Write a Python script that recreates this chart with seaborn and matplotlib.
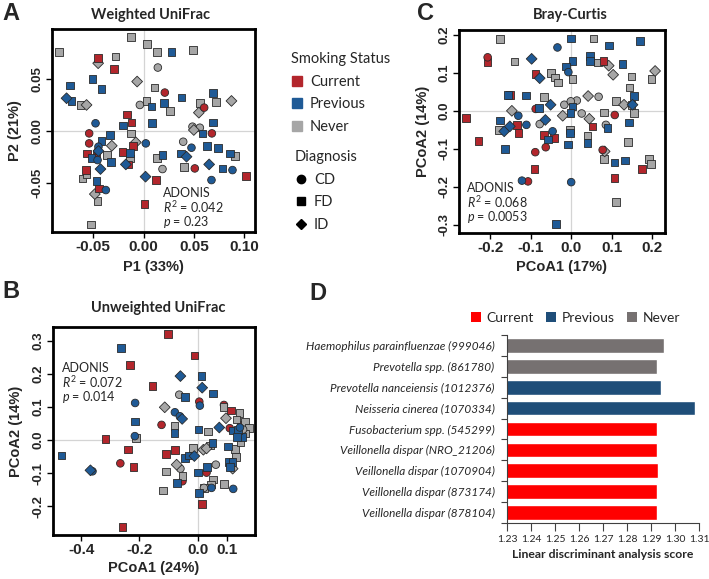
import numpy as np
import pandas as pd
import matplotlib
matplotlib.use("Agg")
import matplotlib.pyplot as plt
import seaborn as sns
from matplotlib.lines import Line2D
from matplotlib.patches import Patch

# ---------------- data ----------------
SMOKE = {"C": "Current", "P": "Previous", "N": "Never"}
DIAG = {"C": "CD", "S": "FD", "D": "ID"}
smoke_levels = ["Current", "Previous", "Never"]
diag_levels = ["CD", "FD", "ID"]

# Panel A: Weighted UniFrac  (x, y, smoking+diagnosis code)
a_points = [
    (-0.0835, 0.0765, "NS"), (-0.0125, 0.0910, "NS"), (0.0036, 0.0846, "NS"), (0.0135, 0.0765, "NS"),
    (0.0492, 0.0787, "NS"), (-0.0277, 0.0723, "NS"), (0.0109, 0.0424, "NS"), (0.0030, 0.0292, "NS"),
    (0.0261, 0.0194, "NS"), (0.0558, 0.0269, "NS"), (0.0716, 0.0279, "NS"), (-0.0624, 0.0253, "NS"),
    (-0.0125, -0.0023, "NS"), (-0.0360, -0.0233, "NS"), (-0.0135, -0.0266, "NS"), (0.0135, -0.0259, "NS"),
    (0.0403, -0.0347, "NS"), (0.0904, -0.0240, "NS"), (-0.0604, -0.0460, "NS"), (-0.0564, -0.0418, "NS"),
    (-0.0455, -0.0680, "NS"), (-0.0518, -0.0907, "NS"),
    (0.0142, 0.0616, "NC"), (-0.0036, 0.0253, "NC"), (0.0485, 0.0042, "NC"), (0.0558, 0.0032, "NC"),
    (0.0393, -0.0104, "NC"), (0.0188, -0.0369, "NC"),
    (-0.0449, 0.0658, "ND"), (-0.0063, 0.0480, "ND"), (-0.0564, 0.0253, "ND"), (0.0871, 0.0292, "ND"),
    (0.0548, 0.0178, "ND"), (0.0498, 0.0010, "ND"), (-0.0314, -0.0143, "ND"), (-0.0076, -0.0110, "ND"),
    (-0.0482, -0.0612, "ND"),
    (-0.0449, 0.0706, "CS"), (-0.0290, 0.0603, "CS"), (-0.0162, 0.0162, "CS"), (-0.0119, 0.0084, "CS"),
    (-0.0208, -0.0201, "CS"), (-0.0102, -0.0143, "CS"), (-0.0149, -0.0324, "CS"), (-0.0558, -0.0217, "CS"),
    (-0.0571, -0.0379, "CS"), (-0.0439, -0.0557, "CS"), (0.0122, -0.0476, "CS"), (0.0010, -0.0710, "CS"),
    (0.1013, -0.0437, "CS"), (-0.0465, -0.0217, "CS"),
    (0.0211, 0.0373, "CC"), (0.0601, 0.0227, "CC"), (0.0677, -0.0023, "CC"), (0.0508, -0.0363, "CC"),
    (-0.0538, -0.0023, "CC"), (-0.0538, -0.0120, "CC"), (-0.0452, -0.0194, "CC"),
    (0.0277, 0.0765, "PS"), (-0.0505, 0.0505, "PS"), (-0.0729, 0.0441, "PS"), (-0.0416, 0.0405, "PS"),
    (-0.0713, 0.0292, "PS"), (0.0376, 0.0324, "PS"), (0.0205, 0.0269, "PS"), (0.0079, 0.0237, "PS"),
    (0.0083, 0.0075, "PS"), (-0.0201, 0.0052, "PS"), (0.0690, 0.0366, "PS"), (0.0690, 0.0084, "PS"),
    (0.0584, -0.0023, "PS"), (0.0630, -0.0143, "PS"), (0.0739, -0.0162, "PS"), (-0.0333, -0.0039, "PS"),
    (-0.0416, -0.0097, "PS"), (-0.0323, -0.0298, "PS"), (-0.0135, -0.0211, "PS"), (0.0188, -0.0233, "PS"),
    (0.0370, -0.0217, "PS"), (0.0782, -0.0363, "PS"), (0.0855, -0.0217, "PS"), (-0.0465, -0.0483, "PS"),
    (-0.0515, -0.0259, "PS"),
    (-0.0475, 0.0075, "PC"), (0.0023, -0.0120, "PC"), (-0.0446, -0.0152, "PC"), (-0.0455, -0.0282, "PC"),
    (-0.0373, -0.0573, "PC"), (0.0475, -0.0162, "PC"), (0.0881, -0.0379, "PC"), (0.0673, -0.0476, "PC"),
    (-0.0762, 0.0318, "PD"), (-0.0446, -0.0194, "PD"), (-0.0426, -0.0369, "PD"), (-0.0175, -0.0324, "PD"),
    (0.0020, -0.0443, "PD"), (0.0426, -0.0249, "PD"), (0.0650, -0.0324, "PD"),
]
a_xticks = [-0.05, 0.0, 0.05, 0.10]
a_xticklabels = ["-0.05", "0.00", "0.05", "0.10"]
a_yticks = [-0.05, 0.0, 0.05]
a_yticklabels = ["-0.05", "0.00", "0.05"]

# Panel B: Unweighted UniFrac
b_points = [
    (-0.101, 0.320, "CS"), (-0.011, 0.255, "CS"), (-0.233, 0.227, "CS"), (-0.155, 0.163, "CS"),
    (-0.317, 0.004, "CS"), (-0.239, -0.028, "CS"), (-0.220, -0.081, "CS"), (-0.109, -0.041, "CS"),
    (-0.077, -0.029, "CS"), (-0.259, -0.261, "CS"), (0.016, -0.192, "CS"), (0.115, 0.089, "CS"),
    (0.148, 0.045, "CS"),
    (0.006, 0.116, "CC"), (0.091, 0.106, "CC"), (-0.124, 0.046, "CC"), (-0.266, -0.070, "CC"),
    (-0.052, -0.124, "CC"), (0.031, -0.098, "CC"), (0.111, 0.036, "CC"),
    (0.089, 0.099, "NS"), (0.144, 0.082, "NS"), (0.134, 0.062, "NS"), (0.163, 0.054, "NS"),
    (0.178, 0.036, "NS"), (0.152, 0.025, "NS"), (-0.213, 0.006, "NS"), (-0.080, 0.042, "NS"),
    (0.037, 0.026, "NS"), (-0.015, -0.023, "NS"), (0.043, -0.016, "NS"), (0.129, -0.026, "NS"),
    (0.148, -0.006, "NS"), (0.132, -0.051, "NS"), (-0.109, -0.094, "NS"), (-0.052, -0.108, "NS"),
    (-0.118, -0.152, "NS"), (0.054, -0.119, "NS"), (0.046, -0.134, "NS"), (0.023, -0.145, "NS"),
    (0.091, -0.132, "NS"), (0.163, 0.020, "NS"),
    (-0.063, 0.137, "NC"), (-0.059, -0.086, "NC"), (0.063, -0.074, "NC"), (0.022, -0.144, "NC"),
    (0.157, 0.032, "NC"),
    (-0.113, 0.099, "ND"), (0.098, 0.066, "ND"), (0.020, -0.029, "ND"), (-0.072, -0.074, "ND"),
    (0.121, -0.086, "ND"), (0.031, -0.025, "ND"),
    (-0.264, 0.277, "PS"), (0.014, 0.193, "PS"), (0.054, 0.140, "PS"), (-0.044, 0.130, "PS"),
    (-0.216, 0.056, "PS"), (-0.080, 0.021, "PS"), (0.003, 0.032, "PS"), (0.121, 0.029, "PS"),
    (0.155, 0.009, "PS"), (-0.469, -0.046, "PS"), (0.052, -0.008, "PS"), (0.106, -0.019, "PS"),
    (-0.044, -0.054, "PS"), (-0.029, -0.046, "PS"), (-0.070, -0.129, "PS"), (0.002, -0.098, "PS"),
    (0.033, -0.081, "PS"), (0.006, -0.159, "PS"), (0.109, -0.066, "PS"), (0.121, -0.066, "PS"),
    (0.111, -0.081, "PS"), (0.140, 0.030, "PS"), (0.137, 0.010, "PS"),
    (-0.215, 0.112, "PC"), (0.008, 0.104, "PC"), (-0.078, 0.084, "PC"), (-0.061, 0.072, "PC"),
    (-0.216, 0.012, "PC"), (-0.362, -0.094, "PC"), (0.048, -0.144, "PC"), (0.123, -0.147, "PC"),
    (0.146, 0.038, "PC"),
    (-0.059, 0.193, "PD"), (0.016, 0.158, "PD"), (-0.053, 0.064, "PD"), (0.075, 0.038, "PD"),
    (-0.011, -0.048, "PD"), (-0.369, -0.091, "PD"),
]
b_xticks = [-0.4, -0.2, 0.0, 0.1]
b_xticklabels = ["-0.4", "-0.2", "0.0", "0.1"]
b_yticks = [-0.2, -0.1, 0.0, 0.1, 0.2, 0.3]
b_yticklabels = ["-0.2", "-0.1", "0.0", "0.1", "0.2", "0.3"]

# Panel C: Bray-Curtis
c_points = [
    (-0.176, 0.189, "NS"), (-0.140, 0.130, "NS"), (-0.050, 0.099, "NS"), (-0.040, 0.088, "NS"),
    (-0.032, 0.075, "NS"), (-0.067, 0.036, "NS"), (-0.179, -0.050, "NS"), (0.055, 0.191, "NS"),
    (0.066, 0.127, "NS"), (0.003, 0.084, "NS"), (0.149, 0.090, "NS"), (0.199, 0.084, "NS"),
    (0.145, 0.061, "NS"), (0.111, 0.026, "NS"), (0.149, 0.016, "NS"), (0.155, -0.006, "NS"),
    (0.082, -0.004, "NS"), (-0.003, -0.050, "NS"), (0.040, -0.065, "NS"), (0.141, -0.082, "NS"),
    (0.082, -0.127, "NS"), (0.193, -0.127, "NS"), (0.198, -0.140, "NS"), (0.111, -0.241, "NS"),
    (-0.017, 0.016, "NC"), (0.014, 0.027, "NC"), (-0.001, 0.025, "NC"), (0.068, 0.037, "NC"),
    (0.026, -0.007, "NC"), (0.086, -0.037, "NC"), (-0.078, -0.035, "NC"),
    (-0.147, 0.000, "ND"), (0.093, 0.119, "ND"), (0.104, 0.095, "ND"), (0.208, 0.105, "ND"),
    (0.042, 0.039, "ND"), (-0.021, -0.013, "ND"), (0.045, -0.021, "ND"), (0.131, 0.016, "ND"),
    (0.083, -0.107, "ND"),
    (-0.207, 0.128, "CS"), (-0.088, 0.097, "CS"), (-0.260, -0.019, "CS"), (-0.135, -0.037, "CS"),
    (-0.131, -0.059, "CS"), (-0.067, -0.063, "CS"), (-0.042, -0.072, "CS"), (-0.230, -0.079, "CS"),
    (-0.091, -0.153, "CS"), (0.080, 0.132, "CS"), (0.053, -0.041, "CS"), (0.175, -0.153, "CS"),
    (0.107, -0.177, "CS"), (-0.152, 0.042, "CS"),
    (-0.207, 0.141, "CC"), (-0.088, 0.005, "CC"), (-0.089, -0.109, "CC"), (-0.063, -0.096, "CC"),
    (-0.107, -0.186, "CC"), (0.108, -0.011, "CC"), (0.078, -0.103, "CC"),
    (-0.156, 0.042, "PS"), (-0.112, 0.040, "PS"), (-0.079, 0.007, "PS"), (-0.176, -0.026, "PS"),
    (-0.058, -0.076, "PS"), (-0.164, -0.100, "PS"), (-0.038, -0.298, "PS"), (-0.001, 0.191, "PS"),
    (0.094, 0.172, "PS"), (0.171, 0.184, "PS"), (0.003, 0.132, "PS"), (0.046, 0.145, "PS"),
    (0.046, 0.132, "PS"), (0.127, 0.123, "PS"), (-0.013, 0.117, "PS"), (0.155, 0.039, "PS"),
    (0.003, 0.011, "PS"), (-0.002, -0.006, "PS"), (0.090, -0.046, "PS"), (0.144, -0.031, "PS"),
    (-0.003, -0.059, "PS"), (0.040, -0.085, "PS"), (-0.008, -0.089, "PS"), (0.107, -0.136, "PS"),
    (0.134, -0.131, "PS"),
    (-0.034, 0.167, "PC"), (-0.131, -0.013, "PC"), (-0.111, -0.037, "PC"), (-0.046, -0.054, "PC"),
    (-0.122, -0.184, "PC"), (-0.007, 0.102, "PC"), (0.000, -0.188, "PC"),
    (-0.098, 0.137, "PD"), (-0.078, 0.086, "PD"), (-0.051, 0.016, "PD"), (-0.166, -0.054, "PD"),
    (-0.152, -0.041, "PD"), (-0.064, -0.024, "PD"), (0.152, 0.016, "PD"),
]
c_xticks = [-0.2, -0.1, 0.0, 0.1, 0.2]
c_xticklabels = ["-0.2", "-0.1", "0.0", "0.1", "0.2"]
c_yticks = [-0.3, -0.2, -0.1, 0.0, 0.1, 0.2]
c_yticklabels = ["-0.3", "-0.2", "-0.1", "0.0", "0.1", "0.2"]

# Panel D: LDA scores
d_taxa = [
    "Haemophilus parainfluenzae (999046)",
    "Prevotella spp. (861780)",
    "Prevotella nanceiensis (1012376)",
    "Neisseria cinerea (1070334)",
    "Fusobacterium spp. (545299)",
    "Veillonella dispar (NRO_21206)",
    "Veillonella dispar (1070904)",
    "Veillonella dispar (873174)",
    "Veillonella dispar (878104)",
]
d_score = [1.2955, 1.2927, 1.2941, 1.3082, 1.2927, 1.2927, 1.2929, 1.2927, 1.2927]
d_group = ["Never", "Never", "Previous", "Previous", "Current", "Current", "Current", "Current", "Current"]
d_xticks = [1.23, 1.24, 1.25, 1.26, 1.27, 1.28, 1.29, 1.30, 1.31]
d_xticklabels = ["1.23", "1.24", "1.25", "1.26", "1.27", "1.28", "1.29", "1.30", "1.31"]

# ---------------- style ----------------
sns.set_theme(style="white")
plt.rcParams["font.family"] = ["Liberation Sans", "DejaVu Sans"]
plt.rcParams["mathtext.fontset"] = "custom"
plt.rcParams["mathtext.it"] = "Lato:italic"
plt.rcParams["mathtext.rm"] = "Lato"
CAL = ["Lato", "DejaVu Sans"]

PAL = {"Current": "#B3262C", "Previous": "#1F5A96", "Never": "#A6A6A6"}
MARK = {"CD": "o", "FD": "s", "ID": "D"}
BARPAL = {"Current": "#FF0000", "Previous": "#1F4E79", "Never": "#767171"}

W, H = 709, 579
fig = plt.figure(figsize=(W / 100, H / 100), dpi=100)


def box(l, t, r, b):
    return [l / W, 1 - b / H, (r - l) / W, (b - t) / H]


def fx(x):
    return x / W


def fy(y):
    return 1 - y / H


def scatter_panel(ax, pts, xlim, ylim, xt, xtl, yt, ytl, xlab, ylab, xl_y, yl_x):
    df = pd.DataFrame(pts, columns=["x", "y", "code"])
    df["Smoking"] = df["code"].str[0].map(SMOKE)
    df["Diagnosis"] = df["code"].str[1].map(DIAG)
    ax.axhline(0, color="#d4d4d4", lw=0.9, zorder=1)
    ax.axvline(0, color="#d4d4d4", lw=0.9, zorder=1)
    sns.scatterplot(data=df, x="x", y="y", hue="Smoking", style="Diagnosis",
                    hue_order=smoke_levels, style_order=diag_levels,
                    palette=PAL, markers=MARK, s=30, edgecolor="#2a2a2a",
                    linewidth=0.6, legend=False, ax=ax, zorder=3)
    ax.set_xlim(*xlim)
    ax.set_ylim(*ylim)
    ax.set_xticks(xt)
    ax.set_xticklabels(xtl, fontsize=11, fontweight="bold")
    ax.set_yticks(yt)
    ax.set_yticklabels(ytl, fontsize=9.5, fontweight="bold", rotation=90, va="center")
    ax.tick_params(axis="both", direction="out", length=4, width=1, color="black",
                   bottom=True, left=True, pad=2)
    for s in ax.spines.values():
        s.set_linewidth(2)
        s.set_color("black")
    ax.grid(False)
    ax.set_xlabel(xlab, fontsize=10.5, fontweight="bold")
    ax.set_ylabel(ylab, fontsize=10.5, fontweight="bold")
    ax.xaxis.label.set_va("center")
    ax.yaxis.label.set_va("center")
    ax.xaxis.set_label_coords(0.5, xl_y)
    ax.yaxis.set_label_coords(yl_x, 0.5)


# Panel A
axA = fig.add_axes(box(52, 29, 255, 232))
scatter_panel(axA, a_points, (-0.0906, 0.1104), (-0.098, 0.099),
              a_xticks, a_xticklabels, a_yticks, a_yticklabels,
              "P1 (33%)", "P2 (21%)", -0.172, -0.182)
# Panel B
axB = fig.add_axes(box(53, 327, 255, 535))
scatter_panel(axB, b_points, (-0.498, 0.198), (-0.286, 0.341),
              b_xticks, b_xticklabels, b_yticks, b_yticklabels,
              "PCoA1 (24%)", "PCoA2 (14%)", -0.159, -0.183)
# Panel C
axC = fig.add_axes(box(459, 30, 665, 233))
scatter_panel(axC, c_points, (-0.278, 0.2325), (-0.322, 0.213),
              c_xticks, c_xticklabels, c_yticks, c_yticklabels,
              "PCoA1 (17%)", "PCoA2 (14%)", -0.167, -0.175)

# Titles and panel letters
fig.text(fx(151), fy(15), "Weighted UniFrac", family=CAL, fontweight="bold", fontsize=10.5, ha="center", va="center")
fig.text(fx(158), fy(308), "Unweighted UniFrac", family=CAL, fontweight="bold", fontsize=10.5, ha="center", va="center")
fig.text(fx(570), fy(15), "Bray-Curtis", family=CAL, fontweight="bold", fontsize=10.5, ha="center", va="center")
for lab, x, y in [("A", 11, 14), ("B", 11, 291), ("C", 426, 14), ("D", 318, 294)]:
    fig.text(fx(x), fy(y), lab, fontsize=17, fontweight="bold", ha="center", va="center")

# ADONIS annotations
for (x, y0, r2, p) in [(163, 193, "0.042", "0.23"), (62, 368, "0.072", "0.014"), (467, 188, "0.068", "0.0053")]:
    fig.text(fx(x), fy(y0), "ADONIS", family=CAL, fontsize=9, va="center")
    fig.text(fx(x), fy(y0 + 14.5), "$R^2$ = " + r2, family=CAL, fontsize=9, va="center")
    fig.text(fx(x), fy(y0 + 29), "$p$ = " + p, family=CAL, fontsize=9, va="center")

# Middle legends
h1 = [Line2D([], [], marker="s", linestyle="", color=PAL[k], markersize=7) for k in smoke_levels]
leg1 = fig.legend(h1, smoke_levels, title="Smoking Status", loc="upper left",
                  bbox_to_anchor=(fx(291), fy(52)), frameon=False, alignment="left",
                  prop={"family": CAL, "size": 10.5}, title_fontproperties={"family": CAL, "size": 10.5},
                  handlelength=0.8, handletextpad=0.5, labelspacing=0.6, borderpad=0, borderaxespad=0)
h2 = [Line2D([], [], marker=MARK[k], linestyle="", color="black", markersize=6 if k != "ID" else 5.5) for k in diag_levels]
leg2 = fig.legend(h2, diag_levels, title="Diagnosis", loc="upper left",
                  bbox_to_anchor=(fx(295), fy(150)), frameon=False, alignment="left",
                  prop={"family": CAL, "size": 10.5}, title_fontproperties={"family": CAL, "size": 10.5},
                  handlelength=0.8, handletextpad=0.5, labelspacing=0.6, borderpad=0, borderaxespad=0)

# Panel D
axD = fig.add_axes(box(507, 335, 699, 523))
dfD = pd.DataFrame({"taxon": d_taxa, "score": d_score, "group": d_group})
sns.barplot(data=dfD, y="taxon", x="score", hue="group", palette=BARPAL, order=d_taxa,
            hue_order=smoke_levels, dodge=False, orient="h", width=0.7, saturation=1,
            legend=False, ax=axD)
axD.set_xlim(1.23, 1.31)
axD.set_ylim(len(d_taxa) - 0.5, -0.5)
axD.set_xticks(d_xticks)
axD.set_xticklabels(d_xticklabels, family=CAL, fontsize=7.5)
axD.set_yticks(range(len(d_taxa)))
axD.set_yticklabels(d_taxa, family=CAL, fontsize=8.5, style="italic")
axD.set_yticks([i - 0.5 for i in range(len(d_taxa) + 1)], minor=True)
axD.tick_params(axis="y", which="major", length=0, pad=9)
axD.tick_params(axis="y", which="minor", length=4, width=0.8, color="#404040", left=True)
axD.tick_params(axis="x", which="major", length=5.5, width=0.8, color="#404040", bottom=True, pad=3)
for side in ["top", "right"]:
    axD.spines[side].set_visible(False)
for side in ["left", "bottom"]:
    axD.spines[side].set_color("#404040")
    axD.spines[side].set_linewidth(0.8)
axD.grid(False)
axD.set_ylabel("")
axD.set_xlabel("Linear discriminant analysis score", family=CAL, fontweight="bold", fontsize=8.8)
axD.xaxis.label.set_va("center")
axD.xaxis.set_label_coords(0.5, -0.168)
hD = [Patch(facecolor=BARPAL[k], edgecolor="none") for k in smoke_levels]
axD.legend(hD, smoke_levels, ncol=3, loc="center right", bbox_to_anchor=(0.9, 1.09),
           frameon=False, prop={"family": CAL, "size": 10}, handlelength=0.7, handleheight=0.7,
           handletextpad=0.4, columnspacing=0.9, borderpad=0, borderaxespad=0)

fig.savefig("out.png", dpi=100)
